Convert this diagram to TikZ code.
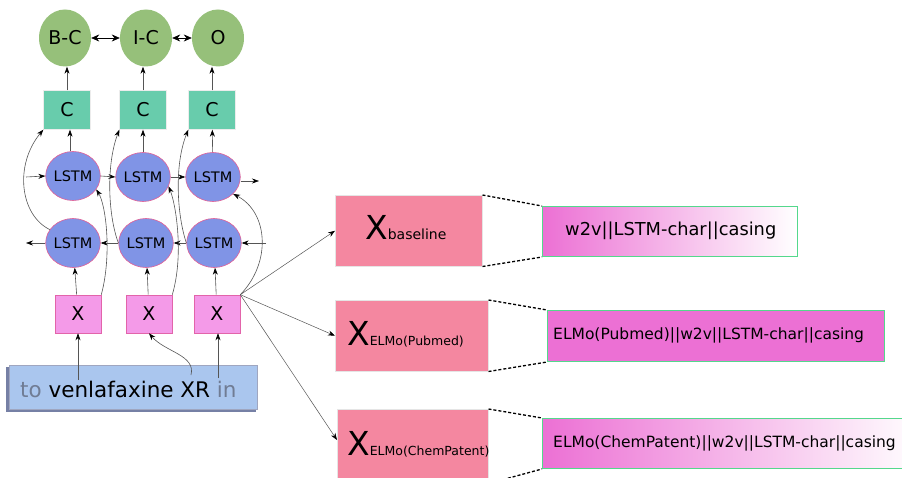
\documentclass[tikz,border=0pt]{standalone}
\usepackage{fontspec}
\setmainfont{DejaVu Sans}
\usetikzlibrary{arrows.meta,shapes.geometric}

\definecolor{tagfill}{RGB}{150,192,122}
\definecolor{crffill}{RGB}{104,204,172}
\definecolor{lstmfill}{RGB}{128,148,230}
\definecolor{lstmline}{RGB}{226,96,150}
\definecolor{xfill}{RGB}{244,154,232}
\definecolor{xline}{RGB}{226,100,170}
\definecolor{sentfill}{RGB}{170,198,238}
\definecolor{sentline}{RGB}{118,128,165}
\definecolor{faded}{RGB}{112,124,148}
\definecolor{repfill}{RGB}{244,135,160}
\definecolor{featfill}{RGB}{236,112,212}
\definecolor{featline}{RGB}{84,216,140}
\definecolor{wire}{RGB}{85,85,85}

\tikzset{
  fsz/.style={font=\fontsize{#1}{#1}\selectfont},
  tag/.style={ellipse, fill=tagfill, minimum width=52pt, minimum height=57pt, inner sep=0pt, fsz=19},
  crf/.style={rectangle, fill=crffill, draw=white!85!gray, line width=0.4pt, minimum width=47pt, minimum height=39pt, inner sep=0pt, fsz=19},
  lstm/.style={ellipse, fill=lstmfill, draw=lstmline, line width=0.6pt, minimum width=52pt, minimum height=49pt, inner sep=0pt, fsz=14.5},
  xin/.style={rectangle, fill=xfill, draw=xline, line width=0.6pt, minimum width=46pt, minimum height=38pt, inner sep=0pt, fsz=19},
  rep/.style={rectangle, fill=repfill, draw=white!80!gray, line width=0.5pt, anchor=north west, inner sep=0pt},
  feat/.style={rectangle, draw=featline, line width=1pt, anchor=north west, inner sep=0pt},
  conn/.style={draw=wire, line width=0.6pt, -{Stealth[length=7pt,width=5pt,color=black]}},
  bi/.style={draw=black, line width=0.6pt, {Stealth[length=8pt,width=7pt]}-{Stealth[length=8pt,width=7pt]}},
  fan/.style={draw=wire, line width=0.5pt, -{Stealth[length=7pt,width=5pt,color=black]}},
  zoomline/.style={draw=black, line width=1.3pt, dash pattern=on 3pt off 2pt},
}

\begin{document}
\begin{tikzpicture}[x=1pt, y=-1pt]
\useasboundingbox (0,0) rectangle (902,478);

% output tags
\node[tag] (t1) at (65,38) {B-C};
\node[tag] (t2) at (146,38) {I-C};
\node[tag] (t3) at (218,38) {O};

% CRF boxes
\node[crf] (c1) at (67,110) {C};
\node[crf] (c2) at (143,110) {C};
\node[crf] (c3) at (212,110) {C};

% forward LSTM row
\node[lstm] (f1) at (73,176) {LSTM};
\node[lstm] (f2) at (143,177) {LSTM};
\node[lstm] (f3) at (213,177) {LSTM};

% backward LSTM row
\node[lstm] (b1) at (73,243) {LSTM};
\node[lstm] (b2) at (146,243) {LSTM};
\node[lstm] (b3) at (214,243) {LSTM};

% word representations
\node[xin] (x1) at (78,314) {X};
\node[xin] (x2) at (149,314) {X};
\node[xin] (x3) at (217,314) {X};

% input sentence with shadow
\fill[sentline] (6,367) rectangle (256,412);
\node[rectangle, fill=sentfill, draw=sentline!70, line width=0.5pt, anchor=north west,
      minimum width=248pt, minimum height=44pt, inner sep=0pt] (sent) at (9,365) {};
\node[anchor=base west, fsz=21.5, inner sep=0pt] (words) at (20,397)
  {\textcolor{faded}{to} venlafaxine XR \textcolor{faded}{in}};

% tag transitions
\draw[bi] (t1) -- (t2);
\draw[bi] (t2) -- (t3);

% CRF to tags
\draw[conn] (c1) -- (c1 |- t1.south);
\draw[conn] (c2) -- (c2 |- t2.south);
\draw[conn] (c3) -- (c3 |- t3.south);

% forward LSTMs to CRF
\draw[conn] (f1.north -| 70,0) -- (c1.south -| 70,0);
\draw[conn] (f2) -- (c2);
\draw[conn] (f3) -- (c3);

% forward recurrence
\coordinate (fin) at (26,177);
\coordinate (fout) at (259,181);
\draw[conn] (fin) -- (f1.west);
\draw[conn] (f1.east) -- (f2.west);
\draw[conn] (f2.east) -- (f3.west);
\draw[conn] (f3.east |- fout) -- (fout);

% backward recurrence
\coordinate (bin) at (266,243);
\coordinate (bout) at (26,243);
\draw[conn] (bin) -- (b3.east);
\draw[conn] (b3.west) -- (b2.east);
\draw[conn] (b2.west) -- (b1.east);
\draw[conn] (b1.west) -- (bout);

% representations to backward LSTMs
\draw[conn] (x1) -- (b1);
\draw[conn] (x2) -- (b2);
\draw[conn] (x3) -- (b3);

% representations to forward LSTMs
\draw[conn] (x1.north east) .. controls (112,255) and (106,205) .. (f1.-30);
\draw[conn] (x2.north east) .. controls (184,255) and (176,205) .. (f2.-20);
\draw[conn] (x3.north east) .. controls (272,262) and (268,212) .. (f3.-40);

% backward LSTMs to CRF
\draw[conn] (b1.150) .. controls (20,215) and (14,165) .. (c1.south west);
\draw[conn] (b2.west) .. controls (108,215) and (106,165) .. (c2.south west);
\draw[conn] (b3.west) .. controls (177,215) and (174,165) .. (c3.south west);

% words to representations
\coordinate (w1) at (78,380);
\coordinate (w2) at (191,375);
\coordinate (w3) at (218,378);
\draw[conn] (w1) -- (x1.south -| w1);
\draw[conn] (w2) .. controls (196,355) and (165,352) .. (x2.south);
\draw[conn] (w3) -- (x3.south -| w3);

% alternative representations
\node[rep, minimum width=147pt, minimum height=71pt] (r1) at (335,195) {};
\node[rep, minimum width=153pt, minimum height=71pt] (r2) at (335,300) {};
\node[rep, minimum width=151pt, minimum height=74pt] (r3) at (337,409) {};
\node[anchor=base west, inner sep=0pt] at (365,240)
  {\fontsize{33}{33}\selectfont X\fontsize{14}{14}\selectfont baseline};
\node[anchor=base west, inner sep=0pt] at (347,345)
  {\fontsize{33}{33}\selectfont X\fontsize{12.5}{12.5}\selectfont ELMo(Pubmed)};
\node[anchor=base west, inner sep=0pt] at (347,455)
  {\fontsize{33}{33}\selectfont X\fontsize{12.5}{12.5}\selectfont ELMo(ChemPatent)};

\draw[fan] (x3.north east) -- (r1.west);
\draw[fan] (x3.north east) -- (r2.west);
\draw[fan] (x3.north east) -- (r3.west |- 0,440);

% feature concatenations
\node[feat, left color=featfill, right color=white, minimum width=255pt, minimum height=50pt] (e1) at (542,206) {};
\node[feat, fill=featfill, minimum width=337pt, minimum height=51pt] (e2) at (547,310) {};
\node[feat, left color=featfill, right color=white, minimum width=380pt, minimum height=50pt] (e3) at (542,418) {};
\node[anchor=west, fsz=17.8, inner sep=0pt] at (565,231) {w2v||LSTM-char||casing};
\node[anchor=west, fsz=15.5, inner sep=0pt] at (553,335.5) {ELMo(Pubmed)||w2v||LSTM-char||casing};
\node[anchor=west, fsz=15.5, inner sep=0pt] at (553,443) {ELMo(ChemPatent)||w2v||LSTM-char||casing};

% zoom-in guides
\draw[zoomline] (r1.north east) -- (e1.north west);
\draw[zoomline] (r1.south east) -- (e1.south west);
\draw[zoomline] (r2.north east) -- (e2.north west);
\draw[zoomline] (r2.south east) -- (e2.south west);
\draw[zoomline] (r3.north east) -- (e3.north west);
\draw[zoomline] (r3.south east) -- (e3.south west);
\end{tikzpicture}
\end{document}
